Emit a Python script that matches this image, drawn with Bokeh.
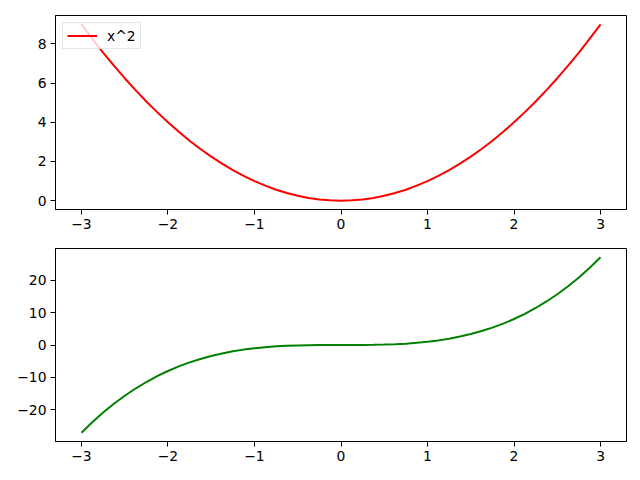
from bokeh.plotting import figure
from bokeh.layouts import column
from bokeh.models import FixedTicker, Range1d, Legend, LegendItem
from bokeh.embed import file_html
from bokeh.resources import INLINE

x_vals = [-3, -2.875, -2.75, -2.625, -2.5, -2.375, -2.25, -2.125, -2, -1.875, -1.75, -1.625,
          -1.5, -1.375, -1.25, -1.125, -1, -0.875, -0.75, -0.625, -0.5, -0.375, -0.25, -0.125, 0,
          0.125, 0.25, 0.375, 0.5, 0.625, 0.75, 0.875, 1, 1.125, 1.25, 1.375, 1.5, 1.625,
          1.75, 1.875, 2, 2.125, 2.25, 2.375, 2.5, 2.625, 2.75, 2.875, 3]
y_square = [9, 8.27, 7.56, 6.89, 6.25, 5.64, 5.06, 4.52, 4, 3.52, 3.06, 2.64,
            2.25, 1.89, 1.56, 1.27, 1, 0.77, 0.56, 0.39, 0.25, 0.14, 0.06, 0.02, 0,
            0.02, 0.06, 0.14, 0.25, 0.39, 0.56, 0.77, 1, 1.27, 1.56, 1.89, 2.25, 2.64,
            3.06, 3.52, 4, 4.52, 5.06, 5.64, 6.25, 6.89, 7.56, 8.27, 9]
y_cube = [-27, -23.76, -20.80, -18.09, -15.63, -13.40, -11.39, -9.60, -8, -6.59, -5.36, -4.29,
          -3.38, -2.60, -1.95, -1.42, -1, -0.67, -0.42, -0.24, -0.13, -0.05, -0.02, 0.00, 0,
          0.00, 0.02, 0.05, 0.13, 0.24, 0.42, 0.67, 1, 1.42, 1.95, 2.60, 3.38, 4.29,
          5.36, 6.59, 8, 9.60, 11.39, 13.40, 15.63, 18.09, 20.80, 23.76, 27]
x_ticks = [-3, -2, -1, 0, 1, 2, 3]
top_y_ticks = [0, 2, 4, 6, 8]
bottom_y_ticks = [-20, -10, 0, 10, 20]
legend_label = "x^2"

FONT = "DejaVu Sans"
FS = "13.9px"


def label_map(ticks):
    return {t: (("\u2212" + str(abs(t))) if t < 0 else str(t)) for t in ticks}


def style(p, yticks):
    p.outline_line_color = "black"
    p.outline_line_width = 1
    p.grid.visible = False
    for ax in (p.xaxis[0], p.yaxis[0]):
        ax.axis_line_color = "black"
        ax.major_tick_line_color = "black"
        ax.major_tick_out = 5
        ax.major_tick_in = 0
        ax.minor_tick_line_color = None
        ax.major_label_text_font = FONT
        ax.major_label_text_font_size = FS
        ax.major_label_text_color = "black"
        ax.major_label_standoff = 4
    p.xaxis[0].ticker = FixedTicker(ticks=x_ticks)
    p.xaxis[0].major_label_overrides = label_map(x_ticks)
    p.yaxis[0].ticker = FixedTicker(ticks=yticks)
    p.yaxis[0].major_label_overrides = label_map(yticks)


p1 = figure(frame_width=571, frame_height=194, min_border_left=55, min_border_right=10,
            min_border_top=15, min_border_bottom=31, output_backend="svg",
            toolbar_location=None, x_range=Range1d(-3.3, 3.3), y_range=Range1d(-0.45, 9.45))
r1 = p1.line(x_vals, y_square, line_color="#ff0000", line_width=2)
style(p1, top_y_ticks)
leg = Legend(items=[LegendItem(label=legend_label, renderers=[r1])], location="top_left")
leg.margin = 7
leg.padding = 4
leg.glyph_width = 30
leg.glyph_height = 17
leg.label_height = 17
leg.label_standoff = 10
leg.label_text_font = FONT
leg.label_text_font_size = FS
leg.label_text_color = "black"
leg.border_line_color = "#cccccc"
leg.border_line_width = 1
leg.background_fill_alpha = 0.8
p1.add_layout(leg)

p2 = figure(frame_width=571, frame_height=193, min_border_left=55, min_border_right=10,
            min_border_top=8, min_border_bottom=30, output_backend="svg",
            toolbar_location=None, x_range=Range1d(-3.3, 3.3), y_range=Range1d(-29.7, 29.7))
p2.line(x_vals, y_cube, line_color="#008000", line_width=2)
style(p2, bottom_y_ticks)

layout = column(p1, p2, spacing=0)
open("out.html", "w").write(file_html(layout, INLINE))
